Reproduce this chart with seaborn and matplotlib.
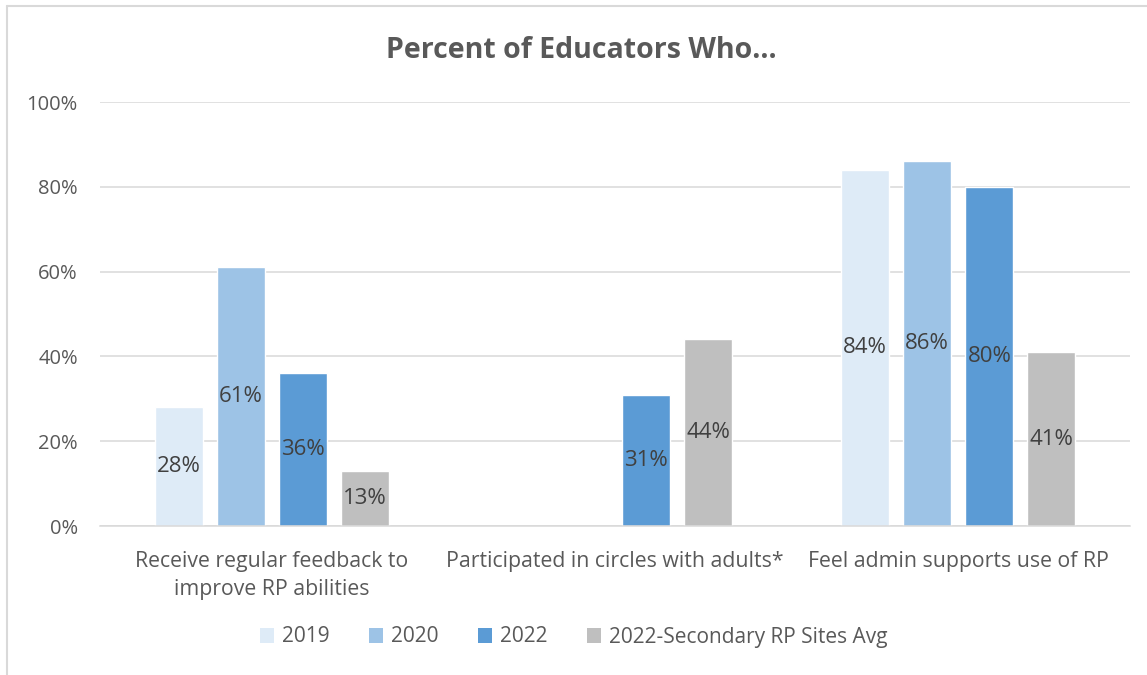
import numpy as np
import pandas as pd
import matplotlib
matplotlib.use("Agg")
import matplotlib.pyplot as plt
from matplotlib.lines import Line2D
from matplotlib.patches import Patch
import seaborn as sns

categories = [
    "Receive regular feedback to\nimprove RP abilities",
    "Participated in circles with adults*",
    "Feel admin supports use of RP",
]
series = ["2019", "2020", "2022", "2022-Secondary RP Sites Avg"]
values_2019 = [28, np.nan, 84]
values_2020 = [61, np.nan, 86]
values_2022 = [36, 31, 80]
values_secondary = [13, 44, 41]
yticks = [0, 20, 40, 60, 80, 100]
ytick_labels = ["0%", "20%", "40%", "60%", "80%", "100%"]
title = "Percent of Educators Who..."

colors = ["#DEEBF7", "#9DC3E6", "#5B9BD5", "#BFBFBF"]
text_color = "#595959"
grid_color = "#D9D9D9"

rows = []
for name, vals in zip(series, [values_2019, values_2020, values_2022, values_secondary]):
    for cat, v in zip(categories, vals):
        rows.append({"category": cat, "series": name, "value": v})
df = pd.DataFrame(rows)

sns.set_theme(style="white")
plt.rcParams["font.family"] = ["Open Sans", "DejaVu Sans"]

fig = plt.figure(figsize=(11.47, 6.75), dpi=100)
ax = fig.add_axes([100 / 1147, 1 - 526 / 675, 1030 / 1147, 424 / 675])

sns.barplot(
    data=df, x="category", y="value", hue="series",
    order=categories, hue_order=series, palette=colors,
    width=0.723, gap=0.226, saturation=1, legend=False, ax=ax,
    errorbar=None,
)

for container in ax.containers:
    labels = [("" if np.isnan(v) else f"{v:.0f}%") for v in container.datavalues]
    ax.bar_label(container, labels=labels, label_type="center",
                 fontsize=16, color="#404040")

ax.set_ylim(0, 100)
ax.set_xlim(-0.5, 2.5)
ax.set_yticks(yticks)
ax.set_yticklabels(ytick_labels)
ax.set_xlabel("")
ax.set_ylabel("")
ax.tick_params(axis="y", length=0, pad=16, labelsize=14.5, labelcolor=text_color)
ax.tick_params(axis="x", length=0, pad=18, labelsize=15.3, labelcolor=text_color)
for lab in ax.get_xticklabels():
    lab.set_linespacing(1.45)
ax.yaxis.grid(True, color=grid_color, linewidth=1.1)
ax.set_axisbelow(True)
for side in ["top", "right", "left"]:
    ax.spines[side].set_visible(False)
ax.spines["bottom"].set_color(grid_color)
ax.spines["bottom"].set_linewidth(1.1)

fig.text(0.507, 1 - 50 / 675, title, ha="center", va="center",
         fontsize=20.5, fontweight="bold", color=text_color)

handles = [Patch(facecolor=c, edgecolor="none") for c in colors]
fig.legend(handles, series, loc="center", bbox_to_anchor=(0.5, 1 - 637 / 675),
           ncol=4, frameon=False, fontsize=15, labelcolor=text_color,
           handlelength=0.7, handleheight=0.7, handletextpad=0.35,
           columnspacing=1.9)

# chart area border
fig.add_artist(Line2D([6.5 / 1147, 6.5 / 1147], [0, 1 - 6 / 675],
                      transform=fig.transFigure, color=grid_color, linewidth=1.5))
fig.add_artist(Line2D([6.5 / 1147, 1], [1 - 6 / 675, 1 - 6 / 675],
                      transform=fig.transFigure, color=grid_color, linewidth=1.5))

fig.savefig("out.png", dpi=100)
